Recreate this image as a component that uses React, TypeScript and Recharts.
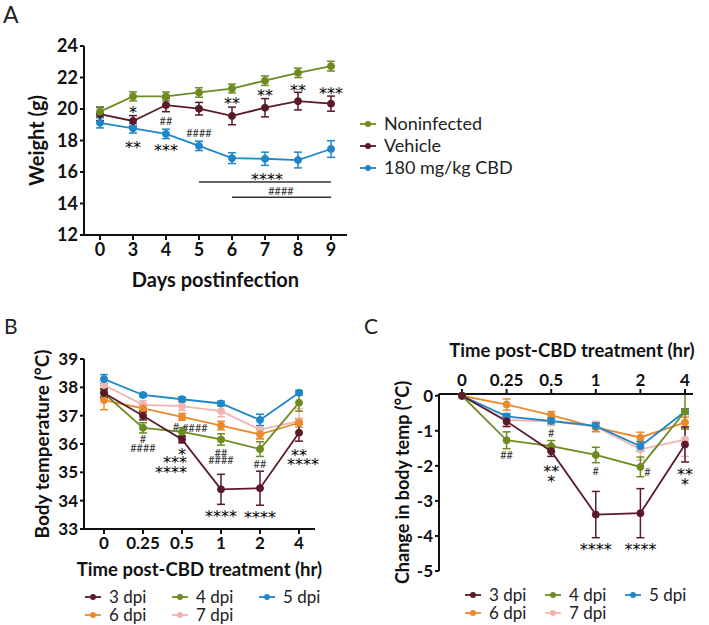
import { LineChart, Line, XAxis, YAxis, ErrorBar, ReferenceDot, ReferenceLine } from "recharts";

const FONT = 'Lato, "Open Sans", sans-serif';

// ---- Panel A: body weight ----
const daysA = ["0", "3", "4", "5", "6", "7", "8", "9"];
const noninfectedW = [19.83, 20.8, 20.8, 21.05, 21.3, 21.8, 22.3, 22.72];
const noninfectedErr = [0.3, 0.29, 0.28, 0.3, 0.28, 0.3, 0.3, 0.31];
const vehicleW = [19.68, 19.24, 20.25, 20.02, 19.56, 20.08, 20.5, 20.34];
const vehicleErr = [0.42, 0.34, 0.42, 0.4, 0.56, 0.58, 0.56, 0.48];
const cbdW = [19.12, 18.77, 18.42, 17.66, 16.88, 16.84, 16.76, 17.46];
const cbdErr = [0.32, 0.3, 0.3, 0.3, 0.34, 0.42, 0.5, 0.53];

const notesA = [
  { x: "3", y: 20.06, t: "*" },
  { x: "3", y: 17.82, t: "**" },
  { x: "4", y: 19.26, t: "##" },
  { x: "4", y: 17.6, t: "***" },
  { x: "5", y: 18.48, t: "####" },
  { x: "6", y: 20.62, t: "**" },
  { x: "7", y: 21.12, t: "**" },
  { x: "8", y: 21.45, t: "**" },
  { x: "9", y: 21.27, t: "***" },
  { x: "7", y: 15.8, t: "****", dx: 2 },
  { x: "7", y: 14.8, t: "####", dx: 16 },
];

// ---- Panels B and C: temperature after CBD ----
const hours = ["0", "0.25", "0.5", "1", "2", "4"];
const dpiNames = ["3 dpi", "4 dpi", "5 dpi", "6 dpi", "7 dpi"];
const dpiColors = ["#5a1a28", "#6e8b22", "#1f87c8", "#ea8a2e", "#f0b5b2"];

const tempB = [
  [37.8, 37.0, 36.16, 34.4, 34.44, 36.4],
  [37.79, 36.57, 36.43, 36.16, 35.82, 37.46],
  [38.29, 37.73, 37.58, 37.43, 36.85, 37.81],
  [37.55, 37.26, 36.96, 36.65, 36.34, 36.75],
  [38.08, 37.38, 37.34, 37.16, 36.51, 36.81],
];
const tempBErr = [
  [0.15, 0.15, 0.12, 0.53, 0.6, 0.3],
  [0.15, 0.18, 0.15, 0.2, 0.26, 0.3],
  [0.16, 0.06, 0.08, 0.08, 0.2, 0.08],
  [0.34, 0.15, 0.12, 0.15, 0.15, 0.15],
  [0.15, 0.15, 0.15, 0.2, 0.35, 0.44],
];

const changeC = [
  [0, -0.73, -1.58, -3.39, -3.35, -1.39],
  [0, -1.27, -1.44, -1.69, -2.03, -0.45],
  [0, -0.59, -0.72, -0.86, -1.44, -0.45],
  [0, -0.25, -0.55, -0.9, -1.19, -0.76],
  [0, -0.69, -0.73, -0.88, -1.53, -1.25],
];
const changeCErr = [
  [0, 0.15, 0.15, 0.66, 0.7, 0.5],
  [0, 0.24, 0.16, 0.22, 0.28, 0.5],
  [0, 0.08, 0.08, 0.08, 0.14, 0.08],
  [0, 0.16, 0.1, 0.12, 0.15, 0.15],
  [0, 0.15, 0.12, 0.15, 0.3, 0.48],
];

const notesB = [
  { x: "0.25", y: 36.16, t: "#" },
  { x: "0.25", y: 35.87, t: "####" },
  { x: "0.5", y: 36.59, t: "#", dx: -6 },
  { x: "0.5", y: 36.55, t: "####", dx: 13 },
  { x: "0.5", y: 35.79, t: "*" },
  { x: "0.5", y: 35.48, t: "***", dx: -7 },
  { x: "0.5", y: 35.14, t: "****", dx: -11 },
  { x: "1", y: 35.69, t: "##" },
  { x: "1", y: 35.43, t: "####" },
  { x: "1", y: 33.59, t: "****" },
  { x: "2", y: 35.29, t: "##" },
  { x: "2", y: 33.55, t: "****" },
  { x: "4", y: 35.75, t: "**" },
  { x: "4", y: 35.41, t: "****", dx: 4 },
];

const notesC = [
  { x: "0.25", y: -1.69, t: "##" },
  { x: "0.5", y: -1.08, t: "#" },
  { x: "0.5", y: -2.03, t: "**" },
  { x: "0.5", y: -2.32, t: "*" },
  { x: "1", y: -2.15, t: "#" },
  { x: "2", y: -2.17, t: "#", dx: 7 },
  { x: "4", y: -2.13, t: "**" },
  { x: "4", y: -2.41, t: "*" },
  { x: "1", y: -4.27, t: "****" },
  { x: "2", y: -4.27, t: "****" },
];

const dataA = daysA.map((day, i) => ({
  day,
  non: noninfectedW[i],
  nonErr: noninfectedErr[i],
  veh: vehicleW[i],
  vehErr: vehicleErr[i],
  cbd: cbdW[i],
  cbdErr: cbdErr[i],
}));

const buildRows = (vals: number[][], errs: number[][]) =>
  hours.map((hr, i) => {
    const row: any = { hr };
    vals.forEach((s, k) => {
      row["s" + k] = s[i];
      row["e" + k] = errs[k][i];
    });
    return row;
  });

const dataB = buildRows(tempB, tempBErr);
const dataC = buildRows(changeC, changeCErr);

const tickBold = (size: number) => ({ fontSize: size, fontWeight: 700, fill: "#111", fontFamily: FONT });

const Note = (props: any) => {
  const { cx, cy, t, dx = 0 } = props;
  const star = t.includes("*");
  return (
    <text
      x={cx + dx}
      y={cy}
      dy={star ? "0.6em" : "0.35em"}
      textAnchor="middle"
      fontFamily={star ? '"DejaVu Sans", sans-serif' : FONT}
      fontSize={star ? 16 : 11}
      fill={star ? "#000" : "#333"}
    >
      {t}
    </text>
  );
};

const renderNotes = (notes: { x: string; y: number; t: string; dx?: number }[]) =>
  notes.map((n, i) => (
    <ReferenceDot
      key={"n" + i}
      x={n.x}
      y={n.y}
      r={0}
      ifOverflow="visible"
      shape={(p: any) => <Note {...p} t={n.t} dx={n.dx} />}
    />
  ));

const series = (color: string, key: string, errKey: string, name: string) => (
  <Line
    key={key}
    dataKey={key}
    name={name}
    stroke={color}
    strokeWidth={1.8}
    dot={{ r: 3.5, fill: color, stroke: color, strokeWidth: 1 }}
    isAnimationActive={false}
  >
    <ErrorBar dataKey={errKey} width={4} strokeWidth={1.5} stroke={color} direction="y" />
  </Line>
);

const axisLine = { stroke: "#111", strokeWidth: 2 };
const tickLine = { stroke: "#111", strokeWidth: 2 };

function PanelA() {
  return (
    <LineChart width={360} height={300} data={dataA} margin={{ top: 46, right: 13, left: 0, bottom: 0 }}>
      <XAxis
        dataKey="day"
        padding={{ left: 16, right: 16 }}
        axisLine={axisLine}
        tickLine={tickLine}
        tickSize={5}
        tickMargin={3}
        tick={tickBold(18)}
        height={65}
        label={{ value: "Days postinfection", position: "insideTop", offset: 38, fontSize: 20, fontWeight: 700, fill: "#111", fontFamily: FONT }}
      />
      <YAxis
        domain={[12, 24]}
        ticks={[12, 14, 16, 18, 20, 22, 24]}
        width={84}
        axisLine={axisLine}
        tickLine={tickLine}
        tickSize={4}
        tickMargin={2}
        tick={tickBold(18)}
        label={{ value: "Weight (g)", angle: -90, position: "insideLeft", offset: 37, fontSize: 20, fontWeight: 700, fill: "#111", fontFamily: FONT, style: { textAnchor: "middle" } }}
      />
      <ReferenceLine segment={[{ x: "5", y: 15.37 }, { x: "9", y: 15.37 }]} stroke="#333" strokeWidth={1.5} />
      <ReferenceLine segment={[{ x: "6", y: 14.4 }, { x: "9", y: 14.4 }]} stroke="#333" strokeWidth={1.5} />
      {series("#1f87c8", "cbd", "cbdErr", "180 mg/kg CBD")}
      {series("#5a1a28", "veh", "vehErr", "Vehicle")}
      {series("#6e8b22", "non", "nonErr", "Noninfected")}
      {renderNotes(notesA)}
    </LineChart>
  );
}

function PanelB() {
  return (
    <LineChart width={354} height={325} data={dataB} margin={{ top: 59, right: 39, left: 0, bottom: 0 }}>
      <XAxis
        dataKey="hr"
        padding={{ left: 20, right: 16 }}
        axisLine={axisLine}
        tickLine={tickLine}
        tickSize={5}
        tickMargin={3}
        tick={tickBold(17)}
        height={96}
        label={{ value: "Time post-CBD treatment (hr)", position: "insideTop", offset: 34, fontSize: 18.5, fontWeight: 700, fill: "#111", fontFamily: FONT }}
      />
      <YAxis
        domain={[33, 39]}
        ticks={[33, 34, 35, 36, 37, 38, 39]}
        width={84}
        axisLine={axisLine}
        tickLine={tickLine}
        tickSize={4}
        tickMargin={2}
        tick={tickBold(17)}
        label={{ value: "Body temperature (°C)", angle: -90, position: "insideLeft", offset: 42, fontSize: 19, fontWeight: 700, fill: "#111", fontFamily: FONT, style: { textAnchor: "middle" } }}
      />
      {[4, 3, 2, 1, 0].map((k) => series(dpiColors[k], "s" + k, "e" + k, dpiNames[k]))}
      {renderNotes(notesB)}
    </LineChart>
  );
}

function PanelC() {
  return (
    <LineChart width={355} height={325} data={dataC} margin={{ top: 0, right: 16, left: 0, bottom: 54 }}>
      <XAxis
        dataKey="hr"
        orientation="top"
        padding={{ left: 23, right: 8 }}
        axisLine={axisLine}
        tickLine={tickLine}
        tickSize={5}
        tickMargin={3}
        tick={tickBold(17)}
        height={94}
        label={{ value: "Time post-CBD treatment (hr)", position: "insideTop", offset: 44, dx: 6, fontSize: 18.5, fontWeight: 700, fill: "#111", fontFamily: FONT }}
      />
      <YAxis
        domain={[-5, 0]}
        ticks={[-5, -4, -3, -2, -1, 0]}
        width={85}
        axisLine={axisLine}
        tickLine={tickLine}
        tickSize={4}
        tickMargin={2}
        tick={tickBold(17)}
        label={{ value: "Change in body temp (°C)", angle: -90, position: "insideLeft", offset: 49, fontSize: 18, fontWeight: 700, fill: "#111", fontFamily: FONT, style: { textAnchor: "middle" } }}
      />
      {[4, 3, 2, 1, 0].map((k) => series(dpiColors[k], "s" + k, "e" + k, dpiNames[k]))}
      {renderNotes(notesC)}
    </LineChart>
  );
}

function Key({ x, y, color, text, size = 17 }: { x: number; y: number; color: string; text: string; size?: number }) {
  return (
    <g>
      <line x1={x - 8} y1={y} x2={x + 8} y2={y} stroke={color} strokeWidth={1.8} />
      <circle cx={x} cy={y} r={3} fill={color} />
      <text x={x + 16} y={y + 6} fontSize={size} fontFamily={FONT} fill="#222">
        {text}
      </text>
    </g>
  );
}

export default function App() {
  const keysB = [
    [93, 597],
    [180, 597],
    [267, 597],
    [93, 615],
    [180, 615],
  ];
  const keysC = [
    [473, 595],
    [553, 595],
    [633, 595],
    [473, 613],
    [553, 613],
  ];
  return (
    <div style={{ position: "absolute", left: 0, top: 0, width: 709, height: 625, background: "#fff", fontFamily: FONT }}>
      <div style={{ position: "absolute", left: 0, top: 0 }}>
        <PanelA />
      </div>
      <div style={{ position: "absolute", left: 0, top: 300 }}>
        <PanelB />
      </div>
      <div style={{ position: "absolute", left: 354, top: 300 }}>
        <PanelC />
      </div>
      <svg width={709} height={625} style={{ position: "absolute", left: 0, top: 0, pointerEvents: "none" }}>
        <text x={3} y={23} fontSize={23} fontFamily={FONT} fill="#222">A</text>
        <text x={4} y={334} fontSize={21} fontFamily={FONT} fill="#222">B</text>
        <text x={364} y={334} fontSize={21} fontFamily={FONT} fill="#222">C</text>
        <Key x={368} y={124} color="#6e8b22" text="Noninfected" size={18} />
        <Key x={368} y={146} color="#5a1a28" text="Vehicle" size={18} />
        <Key x={368} y={168} color="#1f87c8" text="180 mg/kg CBD" size={18} />
        {keysB.map(([x, y], k) => (
          <Key key={"b" + k} x={x} y={y} color={dpiColors[k]} text={dpiNames[k]} />
        ))}
        {keysC.map(([x, y], k) => (
          <Key key={"c" + k} x={x} y={y} color={dpiColors[k]} text={dpiNames[k]} />
        ))}
      </svg>
    </div>
  );
}
